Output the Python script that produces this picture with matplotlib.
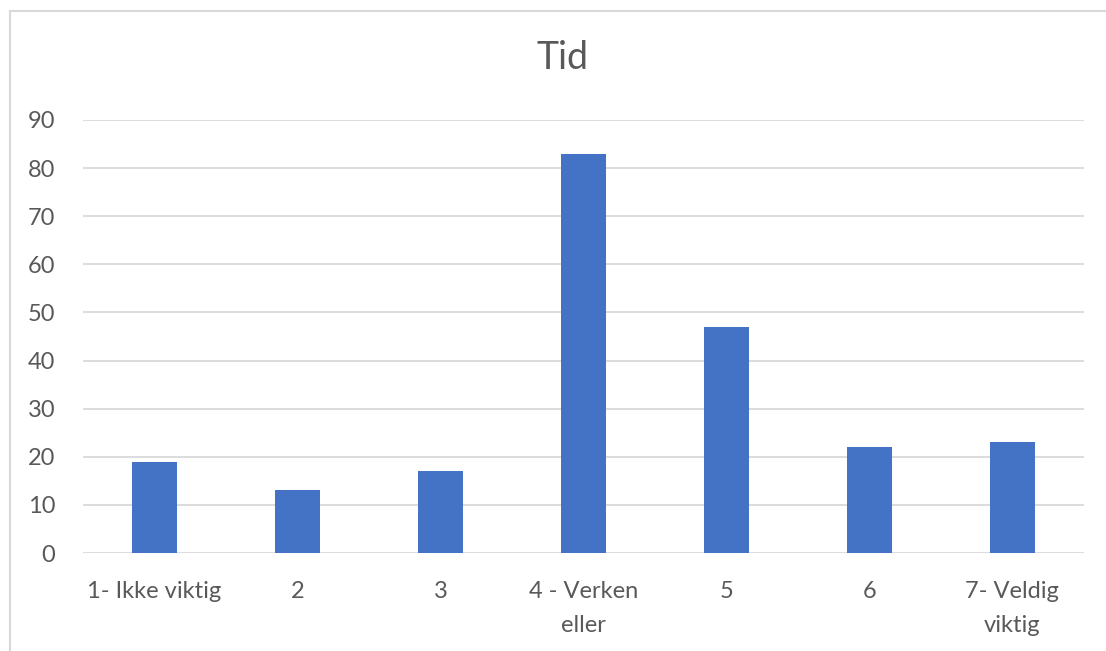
import matplotlib.pyplot as plt
from matplotlib.patches import Rectangle

categories = ['1- Ikke viktig', '2', '3', '4 - Verken\neller', '5', '6', '7- Veldig\nviktig']
values = [19, 13, 17, 83, 47, 22, 23]
yticks = [0, 10, 20, 30, 40, 50, 60, 70, 80, 90]

plt.rcParams['font.family'] = ['Lato', 'DejaVu Sans']
text_color = '#595959'
grid_color = '#d9d9d9'
bar_color = '#4472c4'

fig = plt.figure(figsize=(11.06, 6.51), dpi=100)
ax = fig.add_axes([0.075, 0.1505, 0.905, 0.6652])

x = range(len(categories))
ax.bar(x, values, width=0.313, color=bar_color, zorder=3)

ax.set_xlim(-0.5, len(categories) - 0.5)
ax.set_ylim(0, 90)
ax.set_yticks(yticks)
ax.set_xticks(list(x))
ax.set_xticklabels(categories, linespacing=1.75)
ax.tick_params(axis='both', length=0, labelsize=17, labelcolor=text_color)
ax.tick_params(axis='y', pad=20)
ax.tick_params(axis='x', pad=20)
ax.grid(axis='y', color=grid_color, linewidth=1.3, zorder=0)
for s in ax.spines.values():
    s.set_visible(False)

fig.text(0.509, 0.911, 'Tid', ha='center', va='center', fontsize=27, color=text_color)

# chart area outline (only top and left edges fall inside the canvas)
fig.patches.append(Rectangle((10 / 1106, -0.1), 1.2, 1.1 - 11 / 651,
                             transform=fig.transFigure, fill=False,
                             edgecolor=grid_color, linewidth=1.5))

fig.savefig('out.png', dpi=100, facecolor='white')
